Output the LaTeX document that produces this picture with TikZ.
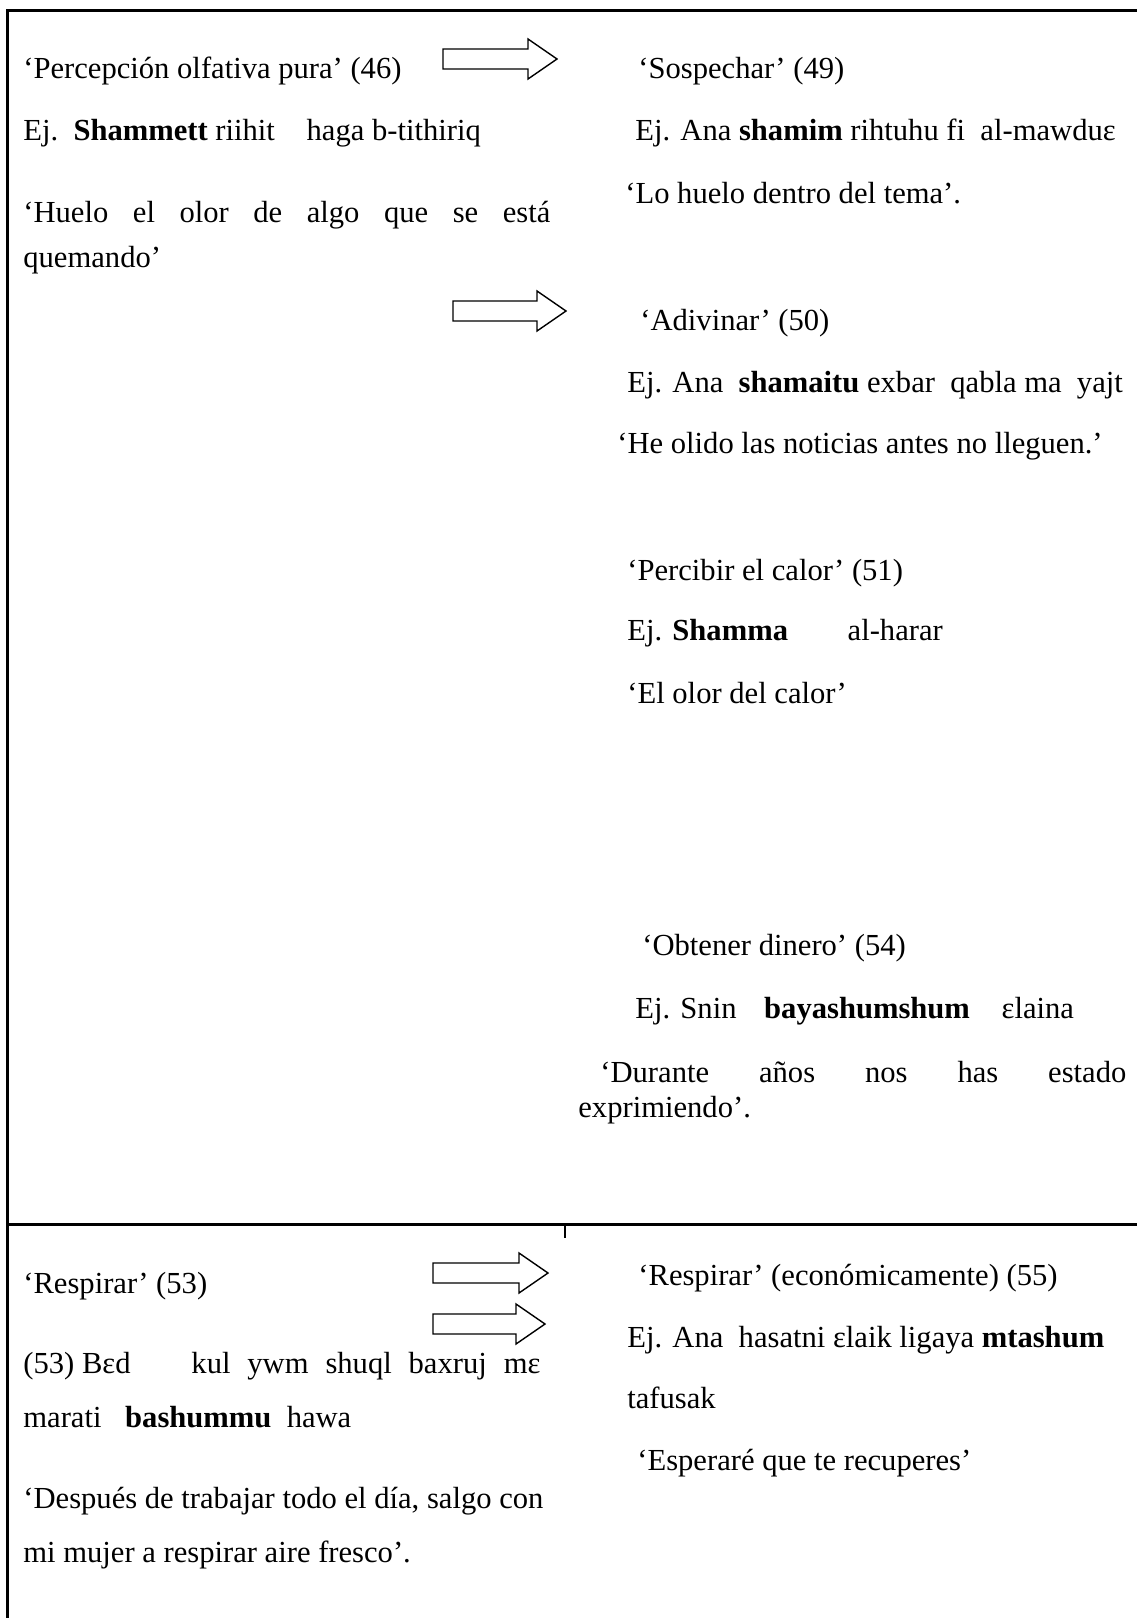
\documentclass[tikz,border=0pt]{standalone}
\usepackage{fontspec}
\setmainfont{Liberation Serif}
\begin{document}
\begin{tikzpicture}[x=0.5pt,y=-0.5pt,
    txt/.style={anchor=base west,inner sep=0pt,font=\fontsize{15.3}{18}\selectfont},
    rule/.style={line width=1.5pt},
    barrow/.style={line width=0.7pt,line join=miter}]
    \useasboundingbox (0,0) rectangle (1137,1618);
    % Frame: top, left, divider and small tick
    \draw[rule] (7,1618) -- (7,10) -- (1137,10);
    \draw[rule] (7,1224) -- (1137,1224);
    \draw[line width=1.2pt] (565,1224) -- (565,1238);
    % Block arrows (left end x / centre y / shaft length)
    \foreach \x/\y/\l in {443/59/85, 453/311/84, 433/1273/86, 433/1324/83}
        \draw[barrow] (\x,\y-10) -- ++(\l,0) -- ++(0,-10) -- ++(29,20)
            -- ++(-29,20) -- ++(0,-10) -- ++(-\l,0) -- cycle;
    % Left column, top: (46)
    \node[txt] (p46) at (23,78) {‘Percepción olfativa pura’ (46)};
    \node[txt] (ej46) at (23,140) {Ej.\ \ \textbf{Shammett} riihit\hspace{12pt} haga b-tithiriq};
    \node[txt] (tr46a) at (23,222) {\makebox[263.5pt][s]{‘Huelo el olor de algo que se está}};
    \node[txt] (tr46b) at (23,267) {quemando’};
    % Right column: (49), (50), (51)
    \node[txt] (p49) at (638,78) {‘Sospechar’ (49)};
    \node[txt] (ej49) at (635,140) {Ej. Ana \textbf{shamim} rihtuhu fi\ \ al-mawduɛ};
    \node[txt] (tr49) at (625,203) {‘Lo huelo dentro del tema’.};
    \node[txt] (p50) at (640,330) {‘Adivinar’ (50)};
    \node[txt] (ej50) at (627,392) {Ej. Ana\ \ \textbf{shamaitu} exbar\ \ qabla ma\ \ yajt};
    \node[txt] (tr50) at (617,453) {‘He olido las noticias antes no lleguen.’};
    \node[txt] (p51) at (627,580) {‘Percibir el calor’ (51)};
    \node[txt] (ej51) at (627,640) {Ej. \textbf{Shamma}\hspace{26pt} al-harar};
    \node[txt] (tr51) at (627,703) {‘El olor del calor’};
    % Right column: (54)
    \node[txt] (p54) at (642,955) {‘Obtener dinero’ (54)};
    \node[txt] (ej54) at (635,1018) {Ej. Snin\hspace{10pt} \textbf{bayashumshum}\hspace{12pt} ɛlaina};
    \node[txt] (tr54a) at (600,1082) {\makebox[263pt][s]{‘Durante años nos has estado}};
    \node[txt] (tr54b) at (578,1117) {exprimiendo’.};
    % Bottom row: (53) and (55)
    \node[txt] (p53) at (23,1293) {‘Respirar’ (53)};
    \node[txt] (ej53a) at (23,1373) {\makebox[258.5pt][s]{\hbox{(53) Bɛd}\hspace{22pt} kul ywm shuql baxruj mɛ}};
    \node[txt] (ej53b) at (23,1427) {marati\hspace{8pt} \textbf{bashummu}\ \ hawa};
    \node[txt] (tr53a) at (23,1508) {‘Después de trabajar todo el día, salgo con};
    \node[txt] (tr53b) at (23,1562) {mi mujer a respirar aire fresco’.};
    \node[txt] (p55) at (638,1285) {‘Respirar’ (económicamente) (55)};
    \node[txt] (ej55a) at (627,1347) {Ej. Ana\ \ hasatni ɛlaik ligaya \textbf{mtashum}};
    \node[txt] (ej55b) at (627,1408) {tafusak};
    \node[txt] (tr55) at (637,1470) {‘Esperaré que te recuperes’};
\end{tikzpicture}
\end{document}
